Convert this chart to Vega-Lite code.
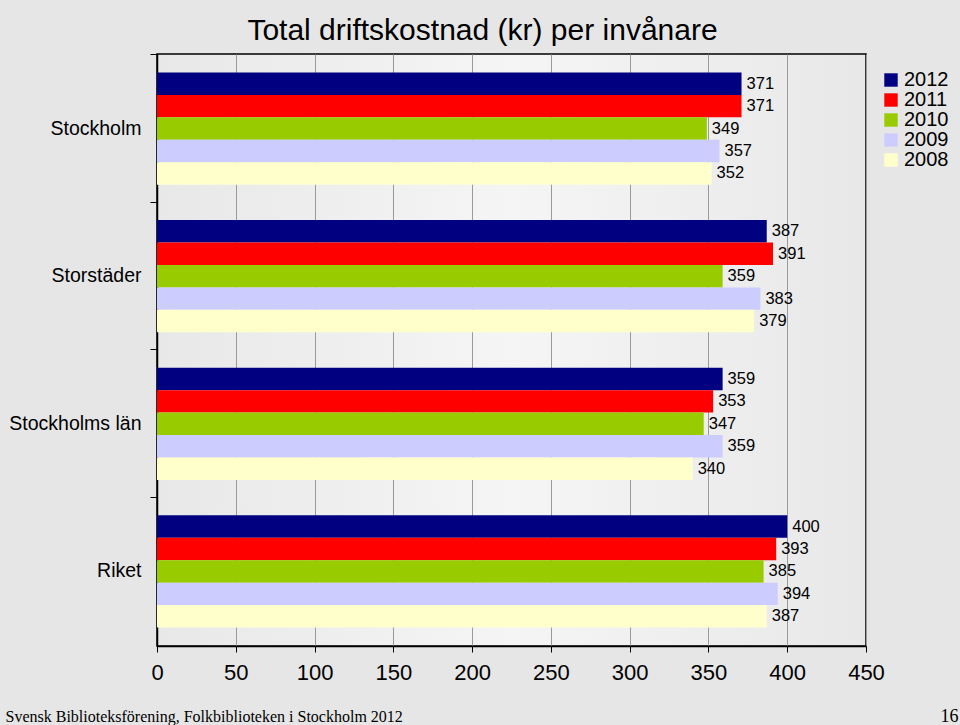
{
  "$schema": "https://vega.github.io/schema/vega-lite/v6.json",
  "width": 709,
  "height": 592,
  "autosize": {"type": "none"},
  "padding": {"left": 157, "top": 54, "right": 94, "bottom": 79},
  "background": "#e6e6e6",
  "title": {
    "text": "Total driftskostnad (kr) per invånare",
    "font": "Liberation Sans",
    "fontSize": 30,
    "fontWeight": "normal",
    "color": "#000000",
    "anchor": "middle",
    "offset": 8,
    "dx": -29
  },
  "config": {
    "font": "Liberation Sans",
    "view": {
      "stroke": "#000000",
      "strokeWidth": 1.5,
      "fill": {
        "gradient": "linear",
        "x1": 0, "y1": 0, "x2": 1, "y2": 0,
        "stops": [
          {"offset": 0, "color": "#e8e8e8"},
          {"offset": 0.5, "color": "#f5f5f5"},
          {"offset": 1, "color": "#e8e8e8"}
        ]
      }
    }
  },
  "data": {
    "values": [
      {"region": "Stockholm", "year": "2012", "value": 371},
      {"region": "Stockholm", "year": "2011", "value": 371},
      {"region": "Stockholm", "year": "2010", "value": 349},
      {"region": "Stockholm", "year": "2009", "value": 357},
      {"region": "Stockholm", "year": "2008", "value": 352},
      {"region": "Storstäder", "year": "2012", "value": 387},
      {"region": "Storstäder", "year": "2011", "value": 391},
      {"region": "Storstäder", "year": "2010", "value": 359},
      {"region": "Storstäder", "year": "2009", "value": 383},
      {"region": "Storstäder", "year": "2008", "value": 379},
      {"region": "Stockholms län", "year": "2012", "value": 359},
      {"region": "Stockholms län", "year": "2011", "value": 353},
      {"region": "Stockholms län", "year": "2010", "value": 347},
      {"region": "Stockholms län", "year": "2009", "value": 359},
      {"region": "Stockholms län", "year": "2008", "value": 340},
      {"region": "Riket", "year": "2012", "value": 400},
      {"region": "Riket", "year": "2011", "value": 393},
      {"region": "Riket", "year": "2010", "value": 385},
      {"region": "Riket", "year": "2009", "value": 394},
      {"region": "Riket", "year": "2008", "value": 387}
    ]
  },
  "encoding": {
    "y": {
      "field": "region",
      "type": "nominal",
      "sort": ["Stockholm", "Storstäder", "Stockholms län", "Riket"],
      "scale": {"paddingInner": 0.24, "paddingOuter": 0.125}
    },
    "yOffset": {
      "field": "year",
      "type": "nominal",
      "sort": "descending",
      "scale": {"paddingInner": 0, "paddingOuter": 0}
    },
    "x": {
      "field": "value",
      "type": "quantitative",
      "scale": {"domain": [0, 450], "nice": false}
    }
  },
  "layer": [
    {
      "mark": {"type": "bar", "strokeWidth": 0},
      "encoding": {
        "y": {
          "field": "region",
          "type": "nominal",
          "sort": ["Stockholm", "Storstäder", "Stockholms län", "Riket"],
          "scale": {"paddingInner": 0.24, "paddingOuter": 0.125},
          "axis": {
            "title": null,
            "labelFontSize": 19.5,
            "labelColor": "#000000",
            "labelPadding": 9,
            "tickSize": 7,
            "tickColor": "#000000",
            "bandPosition": -0.158,
            "domainColor": "#000000",
            "domainWidth": 1.5,
            "grid": false
          }
        },
        "x": {
          "field": "value",
          "type": "quantitative",
          "scale": {"domain": [0, 450], "nice": false},
          "axis": {
            "values": [0, 50, 100, 150, 200, 250, 300, 350, 400, 450],
            "labelFontSize": 22,
            "labelColor": "#000000",
            "labelPadding": 10,
            "labelFlush": false,
            "labelOverlap": false,
            "tickSize": 6,
            "tickColor": "#000000",
            "domainColor": "#000000",
            "domainWidth": 1.5,
            "grid": true,
            "gridColor": "#9a9a9a",
            "gridWidth": 1,
            "title": "Svensk Biblioteksförening, Folkbiblioteken i Stockholm 2012",
            "titleFont": "Liberation Serif",
            "titleFontSize": 16,
            "titleFontWeight": "normal",
            "titleColor": "#000000",
            "titleAnchor": "start",
            "titleAlign": "left",
            "titleBaseline": "alphabetic",
            "titleX": -152,
            "titleY": 75
          }
        },
        "color": {
          "field": "year",
          "type": "nominal",
          "sort": "descending",
          "scale": {
            "domain": ["2012", "2011", "2010", "2009", "2008"],
            "range": ["#000080", "#ff0000", "#99cc00", "#ccccff", "#ffffcc"]
          },
          "legend": {
            "title": null,
            "orient": "none",
            "legendX": 724,
            "legendY": 16,
            "symbolType": "square",
            "symbolSize": 180,
            "symbolStrokeWidth": 0,
            "labelFontSize": 20,
            "labelColor": "#000000",
            "labelOffset": 3,
            "rowPadding": -3.2,
            "padding": 0
          }
        }
      }
    },
    {
      "mark": {"type": "text", "align": "left", "baseline": "middle", "dx": 5, "fontSize": 16.5, "color": "#000000"},
      "encoding": {
        "text": {"field": "value", "type": "quantitative"},
        "y": {
          "field": "region",
          "type": "nominal",
          "sort": ["Stockholm", "Storstäder", "Stockholms län", "Riket"],
          "scale": {"paddingInner": 0.24, "paddingOuter": 0.125},
          "axis": {
            "orient": "right",
            "domain": false,
            "ticks": false,
            "labels": false,
            "grid": false,
            "title": "16",
            "titleAngle": 0,
            "titleFont": "Liberation Serif",
            "titleFontSize": 18,
            "titleFontWeight": "normal",
            "titleColor": "#000000",
            "titleAlign": "right",
            "titleBaseline": "alphabetic",
            "titleX": 92,
            "titleY": 667
          }
        }
      }
    }
  ],
  "resolve": {"axis": {"y": "independent"}}
}
